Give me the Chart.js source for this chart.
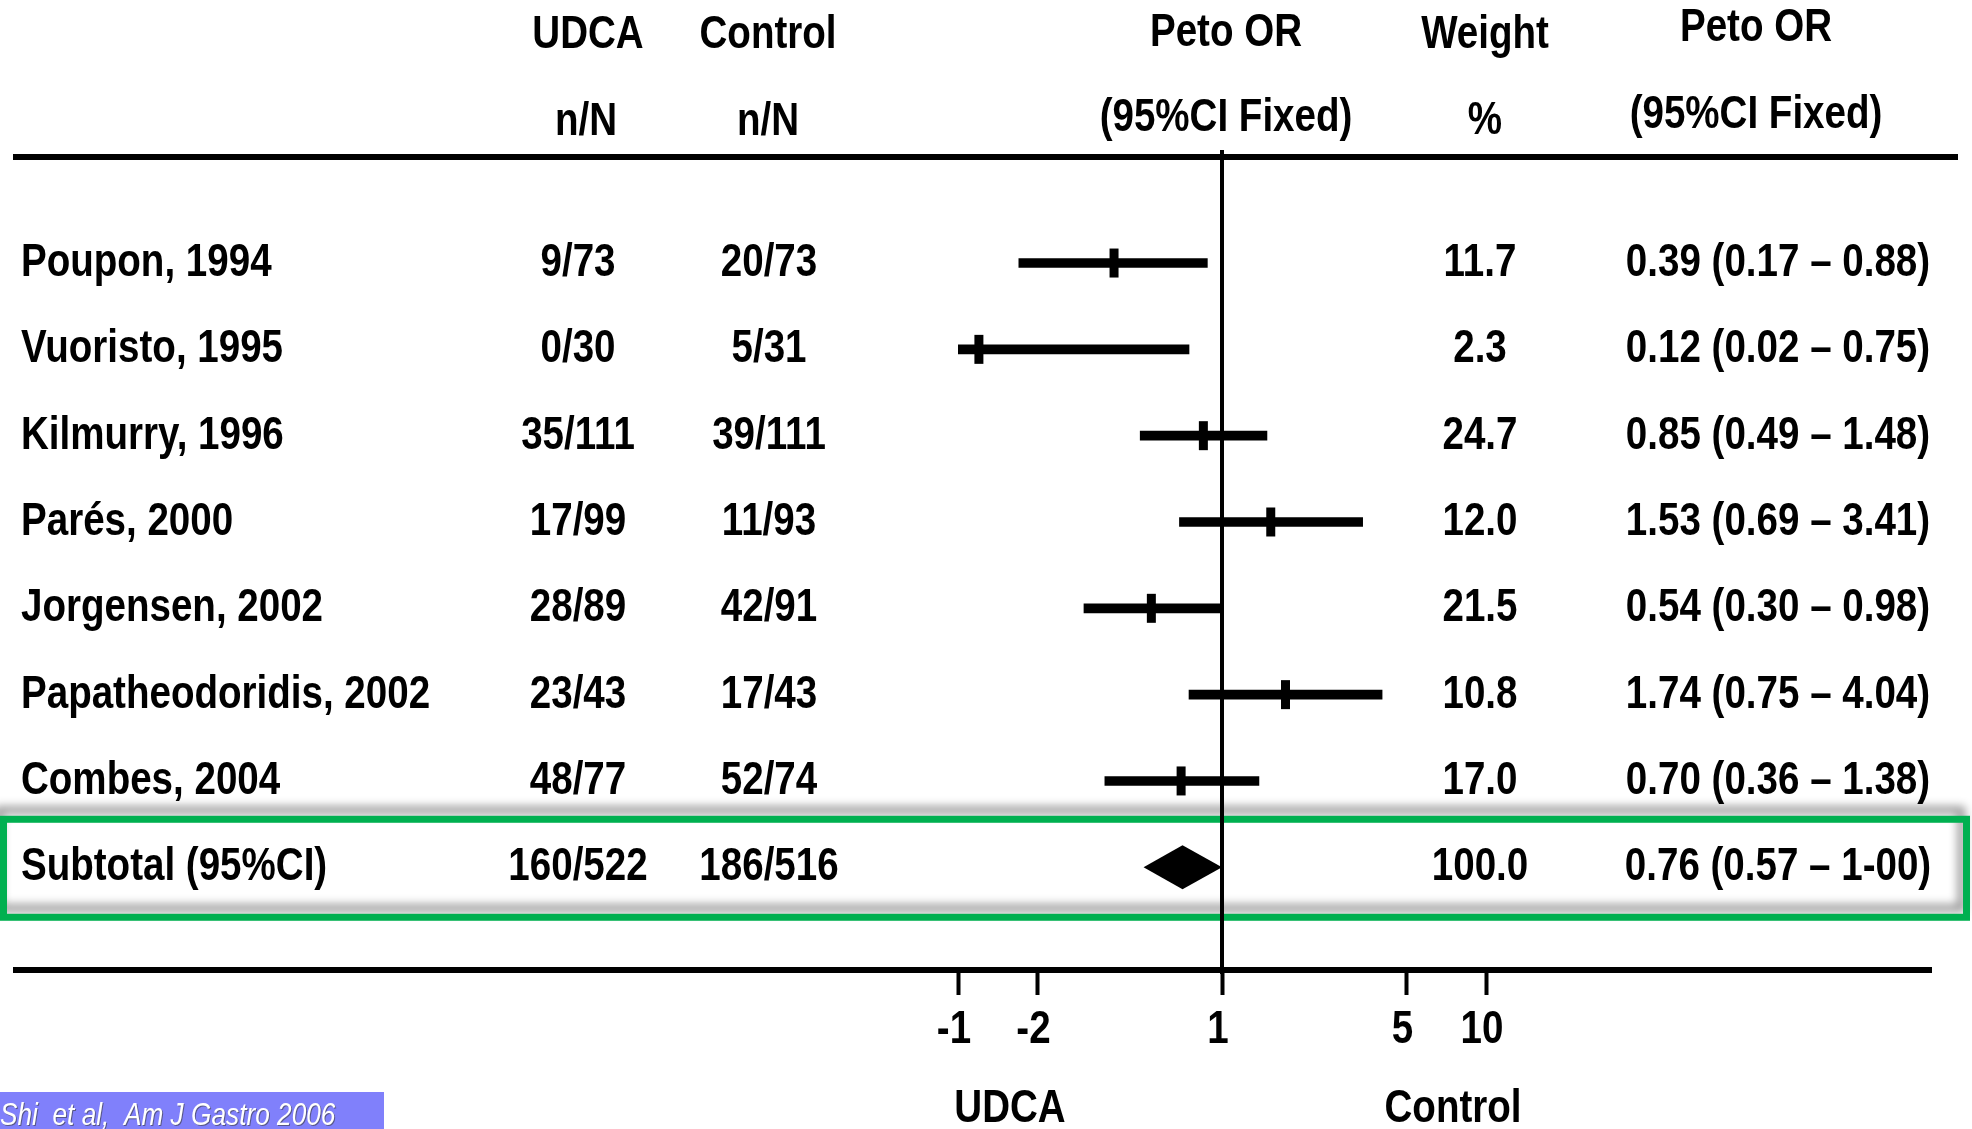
<!DOCTYPE html>
<html>
<head>
<meta charset="utf-8">
<script src="https://cdn.jsdelivr.net/npm/chart.js@4.4.1/dist/chart.umd.min.js"></script>
<style>
html, body { margin: 0; padding: 0; background: #fff; }
canvas { display: block; }
</style>
</head>
<body>
<canvas id="forest" width="1972" height="1129"></canvas>
<script>
// rows: 7 trials + pooled subtotal (last)
const studyNames = ['Poupon, 1994', 'Vuoristo, 1995', 'Kilmurry, 1996', 'Parés, 2000', 'Jorgensen, 2002', 'Papatheodoridis, 2002', 'Combes, 2004', 'Subtotal (95%CI)'];
const udcaEvents = ['9/73', '0/30', '35/111', '17/99', '28/89', '23/43', '48/77', '160/522'];
const controlEvents = ['20/73', '5/31', '39/111', '11/93', '42/91', '17/43', '52/74', '186/516'];
const weights = ['11.7', '2.3', '24.7', '12.0', '21.5', '10.8', '17.0', '100.0'];
const oddsRatio = [0.39, 0.12, 0.85, 1.53, 0.54, 1.74, 0.70, 0.76];
const lowerCI = [0.17, 0.02, 0.49, 0.69, 0.30, 0.75, 0.36, 0.57];
const upperCI = [0.88, 0.75, 1.48, 3.41, 0.98, 4.04, 1.38, 1.00];
const ciText = ['0.39 (0.17 – 0.88)', '0.12 (0.02 – 0.75)', '0.85 (0.49 – 1.48)', '1.53 (0.69 – 3.41)', '0.54 (0.30 – 0.98)', '1.74 (0.75 – 4.04)', '0.70 (0.36 – 1.38)', '0.76 (0.57 – 1-00)'];

const tickValues = [0.1, 0.2, 1, 5, 10];
const tickLabels = ['-1', '-2', '1', '5', '10'];

// no narrow face installed, so squeeze Liberation Sans horizontally
const FONT = "'Liberation Sans', Arial, sans-serif";
const BOLD = 'bold 47px ' + FONT;
const SQUEEZE = 0.82;

const nStudies = studyNames.length - 1;
const subtotal = nStudies;

function drawText(ctx, s, x, y, align, font) {
  ctx.save();
  ctx.font = font || BOLD;
  ctx.textAlign = align;
  ctx.textBaseline = 'middle';
  ctx.translate(x, y);
  ctx.scale(SQUEEZE, 1);
  ctx.fillText(s, 0, 0);
  ctx.restore();
}

const forestDecor = {
  id: 'forestDecor',
  beforeDraw(chart) {
    const ctx = chart.ctx;
    const yc = chart.scales.y.getPixelForValue(subtotal);
    // green frame round the pooled row
    ctx.save();
    ctx.shadowColor = 'rgba(0,0,0,0.45)';
    ctx.shadowBlur = 10;
    ctx.shadowOffsetX = -5;
    ctx.shadowOffsetY = -9;
    ctx.strokeStyle = '#00b050';
    ctx.lineWidth = 7;
    ctx.strokeRect(3.5, yc - 48, 1963, 98);
    ctx.restore();
  },
  beforeDatasetsDraw(chart) {
    const ctx = chart.ctx;
    const x1 = chart.scales.x.getPixelForValue(1);
    ctx.save();
    ctx.strokeStyle = '#000';
    ctx.lineWidth = 4;
    ctx.beginPath();
    ctx.moveTo(x1, 150);
    ctx.lineTo(x1, chart.chartArea.bottom + 4);
    ctx.stroke();
    // rules
    ctx.lineWidth = 6;
    ctx.beginPath();
    ctx.moveTo(13, 157);
    ctx.lineTo(1958, 157);
    ctx.moveTo(13, chart.chartArea.bottom);
    ctx.lineTo(1932, chart.chartArea.bottom);
    ctx.stroke();
    ctx.restore();
  },
  afterDatasetsDraw(chart) {
    // pooled estimate as diamond spanning its CI
    const ctx = chart.ctx;
    const xs = chart.scales.x, ys = chart.scales.y;
    const y = ys.getPixelForValue(subtotal);
    const xl = xs.getPixelForValue(lowerCI[subtotal]);
    const xm = xs.getPixelForValue(oddsRatio[subtotal]);
    const xr = xs.getPixelForValue(upperCI[subtotal]);
    ctx.save();
    ctx.fillStyle = '#000';
    ctx.beginPath();
    ctx.moveTo(xl - 14, y);
    ctx.lineTo(xm - 8, y - 22);
    ctx.lineTo(xr, y);
    ctx.lineTo(xm - 8, y + 22);
    ctx.closePath();
    ctx.fill();
    ctx.restore();
  },
  afterDraw(chart) {
    const ctx = chart.ctx;
    const xs = chart.scales.x, ys = chart.scales.y;
    ctx.save();
    ctx.fillStyle = '#000';
    // header
    drawText(ctx, 'UDCA', 588, 35, 'center');
    drawText(ctx, 'n/N', 586, 122, 'center');
    drawText(ctx, 'Control', 768, 35, 'center');
    drawText(ctx, 'n/N', 768, 122, 'center');
    drawText(ctx, 'Peto OR', 1226, 33, 'center');
    drawText(ctx, '(95%CI Fixed)', 1226, 118, 'center');
    drawText(ctx, 'Weight', 1485, 35, 'center');
    drawText(ctx, '%', 1485, 121, 'center');
    drawText(ctx, 'Peto OR', 1756, 28, 'center');
    drawText(ctx, '(95%CI Fixed)', 1756, 115, 'center');
    // table rows
    studyNames.forEach((name, i) => {
      const y = ys.getPixelForValue(i);
      drawText(ctx, name, 21, y, 'left');
      drawText(ctx, udcaEvents[i], 578, y, 'center');
      drawText(ctx, controlEvents[i], 769, y, 'center');
      drawText(ctx, weights[i], 1480, y, 'center');
      drawText(ctx, ciText[i], 1778, y, 'center');
    });
    // x tick labels, placed by the log scale
    xs.ticks.forEach((t, i) => {
      drawText(ctx, tickLabels[i], xs.getPixelForValue(t.value) - 4, 1030, 'center');
    });
    // axis side labels
    drawText(ctx, 'UDCA', 1010, 1109, 'center');
    drawText(ctx, 'Control', 1453, 1109, 'center');
    // citation tag
    ctx.fillStyle = '#8080fb';
    ctx.fillRect(0, 1092, 384, 37);
    ctx.shadowColor = 'rgba(60,60,60,0.6)';
    ctx.shadowOffsetX = 1;
    ctx.shadowOffsetY = 1;
    ctx.fillStyle = '#fff';
    drawText(ctx, 'Shi  et al,  Am J Gastro 2006', 0, 1116, 'left', 'italic 32px ' + FONT);
    ctx.restore();
  }
};

const ciData = [];
const pointData = [];
for (let i = 0; i < nStudies; i++) {
  ciData.push({ x: [lowerCI[i], upperCI[i]], y: i });
  pointData.push({ x: oddsRatio[i], y: i });
}

new Chart(document.getElementById('forest'), {
  type: 'bar',
  data: {
    datasets: [
      {
        type: 'bar',
        label: '95% CI',
        data: ciData,
        indexAxis: 'y',
        backgroundColor: '#000',
        borderWidth: 0,
        barThickness: 9
      },
      {
        type: 'scatter',
        label: 'Peto OR',
        data: pointData,
        pointStyle: 'line',
        rotation: 90,
        radius: 14.5,
        borderWidth: 9,
        borderColor: '#000',
        backgroundColor: '#000',
        showLine: false
      }
    ]
  },
  options: {
    indexAxis: 'y',
    responsive: false,
    animation: false,
    events: [],
    layout: { padding: { left: 958, right: 486, top: 156, bottom: 0 } },
    plugins: { legend: { display: false }, tooltip: { enabled: false } },
    scales: {
      x: {
        type: 'logarithmic',
        min: 0.1,
        max: 10,
        offset: false,
        border: { display: false },
        grid: {
          drawOnChartArea: false,
          drawTicks: true,
          tickLength: 25,
          tickWidth: 4,
          tickColor: '#000'
        },
        afterBuildTicks: (scale) => {
          scale.ticks = tickValues.map(v => ({ value: v }));
        },
        afterFit: (scale) => { scale.height = 159; },
        ticks: {
          display: false,
          autoSkip: false,
          maxRotation: 0
        }
      },
      y: {
        type: 'linear',
        display: false,
        reverse: true,
        offset: false,
        min: -1.24,
        max: 8.19
      }
    }
  },
  plugins: [forestDecor]
});
</script>
</body>
</html>
